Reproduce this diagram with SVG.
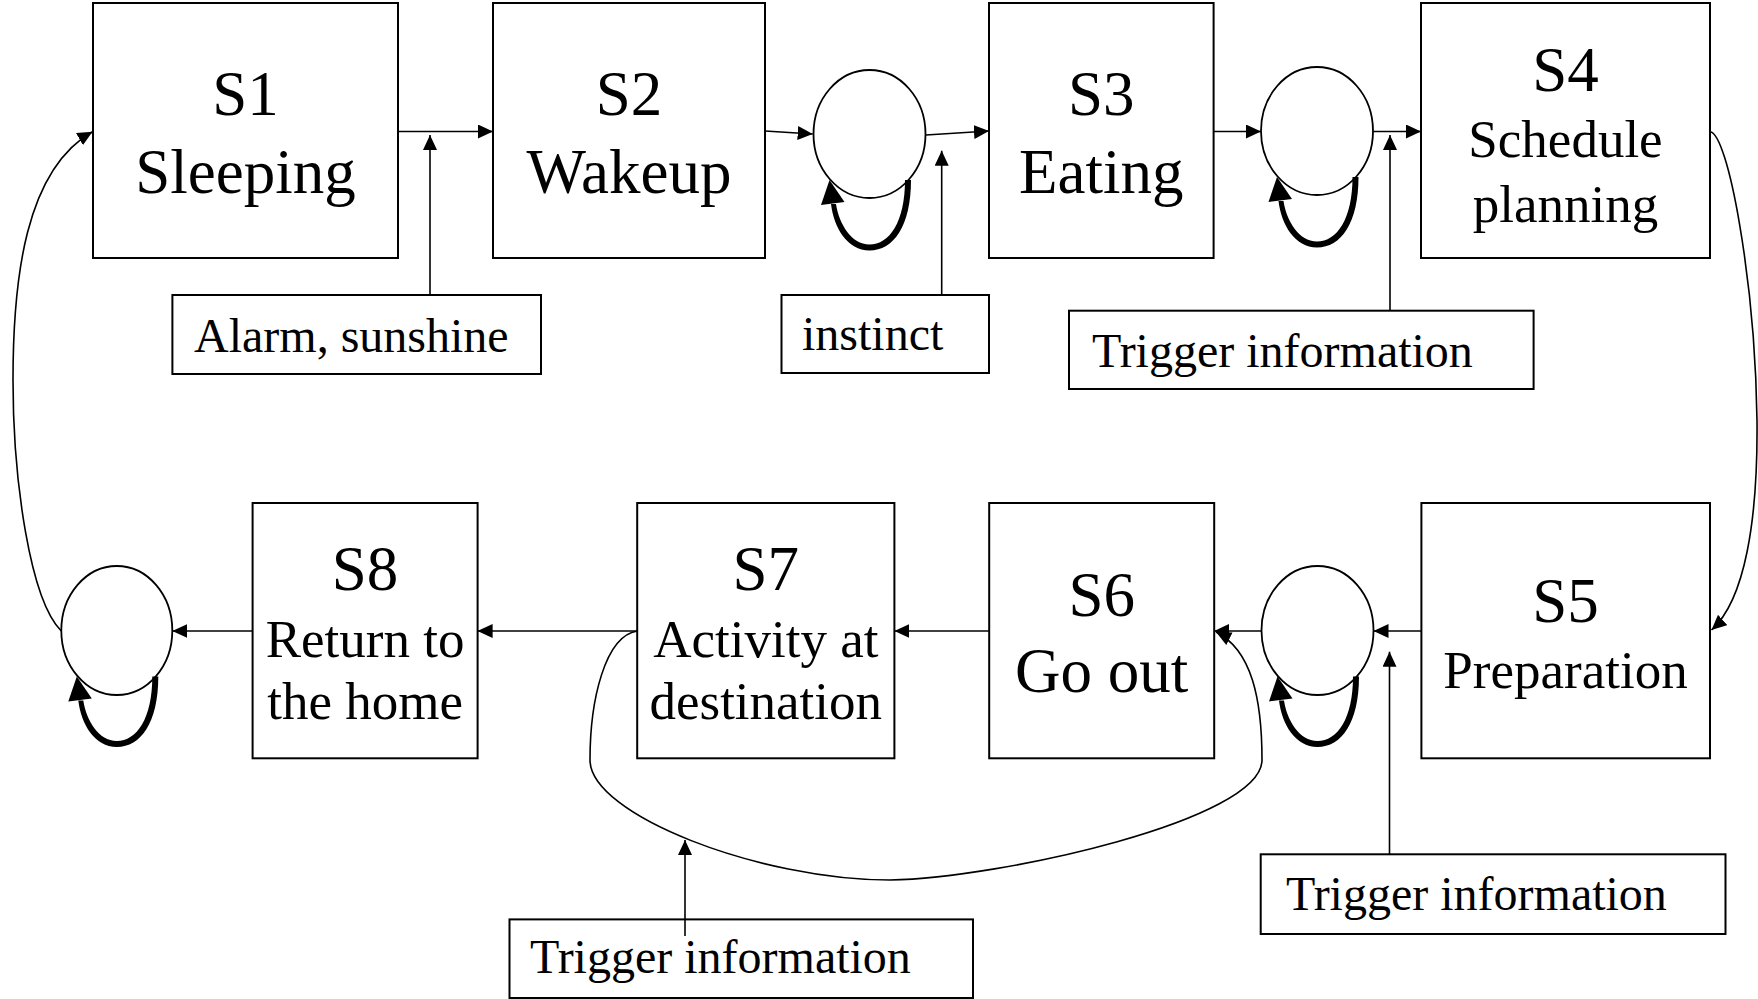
<svg xmlns="http://www.w3.org/2000/svg" xmlns:xlink="http://www.w3.org/1999/xlink" width="1758" height="999" viewBox="0 0 1758 999">
  <style>
    .box { fill: #fff; stroke: #000; stroke-width: 2; }
    .state { fill: #fff; stroke: #000; stroke-width: 1.8; }
    .line { fill: none; stroke: #000; stroke-width: 1.6; }
    .arrow { marker-end: url(#head); }
    text { font-family: "Liberation Serif", "Times New Roman", serif; fill: #000; }
    .big { font-size: 63px; text-anchor: middle; }
    .mid { font-size: 53px; text-anchor: middle; }
    .cue { font-size: 48px; }
  </style>
  <defs>
    <marker id="head" markerUnits="userSpaceOnUse" viewBox="0 0 15 14" refX="15" refY="7" markerWidth="15" markerHeight="14" orient="auto">
      <path d="M0,0 L15,7 L0,14 z" fill="#000"/>
    </marker>
    <!-- self-loop under a circle, drawn relative to the circle centre; the band tapers toward its head -->
    <g id="selfloop">
      <path d="M41.5,46 C41.5,92 24,116.5 0,116.5 C-22,116.5 -35.5,94 -38.5,70 L-33.5,70 C-30.5,90 -18,110.5 0,110.5 C20,110.5 35.5,88 35.5,46 Z" fill="#000"/>
      <path d="M-40,46 L-48.5,71 L-25,68 z" fill="#000"/>
    </g>
  </defs>

  <!-- top row -->
  <g id="s1">
    <rect class="box" x="93" y="3" width="305" height="255"/>
    <text class="big" x="245.5" y="115">S1</text>
    <text class="big" x="245.5" y="192.7">Sleeping</text>
  </g>
  <g id="s2">
    <rect class="box" x="493" y="3" width="272" height="255"/>
    <text class="big" x="629" y="115">S2</text>
    <text class="big" x="629" y="192.7">Wakeup</text>
  </g>
  <g id="c1">
    <ellipse class="state" cx="869.5" cy="134" rx="56" ry="64"/>
  </g>
  <g id="s3">
    <rect class="box" x="989" y="3" width="224.6" height="255"/>
    <text class="big" x="1101.3" y="115">S3</text>
    <text class="big" x="1101.3" y="192.7">Eating</text>
  </g>
  <g id="c2">
    <ellipse class="state" cx="1317" cy="131" rx="56" ry="64"/>
  </g>
  <g id="s4">
    <rect class="box" x="1421" y="3" width="289" height="255"/>
    <text class="big" x="1565.5" y="90.7">S4</text>
    <text class="mid" x="1565.5" y="156.7">Schedule</text>
    <text class="mid" x="1565.5" y="221.7">planning</text>
  </g>

  <!-- bottom row -->
  <g id="s5">
    <rect class="box" x="1421.4" y="503" width="288.6" height="255.3"/>
    <text class="big" x="1565.5" y="621.7">S5</text>
    <text class="mid" x="1565.5" y="688">Preparation</text>
  </g>
  <g id="c3">
    <ellipse class="state" cx="1317.5" cy="630.5" rx="56" ry="64.5"/>
  </g>
  <g id="s6">
    <rect class="box" x="989.2" y="503" width="225" height="255.3"/>
    <text class="big" x="1101.7" y="615.7">S6</text>
    <text class="big" x="1101.7" y="692.3">Go out</text>
  </g>
  <g id="s7">
    <rect class="box" x="637.2" y="503" width="257.2" height="255.3"/>
    <text class="big" x="765.8" y="590.3">S7</text>
    <text class="mid" x="765.8" y="657">Activity at</text>
    <text class="mid" x="765.8" y="719">destination</text>
  </g>
  <g id="s8">
    <rect class="box" x="252.6" y="503" width="225" height="255.3"/>
    <text class="big" x="365.1" y="590.3">S8</text>
    <text class="mid" x="365.1" y="657">Return to</text>
    <text class="mid" x="365.1" y="719">the home</text>
  </g>
  <g id="c4">
    <ellipse class="state" cx="116.8" cy="630.5" rx="55.5" ry="64.5"/>
  </g>

  <!-- input cues -->
  <g id="cue-alarm">
    <rect class="box" x="172.4" y="295" width="368.6" height="79"/>
    <text class="cue" x="194" y="352">Alarm, sunshine</text>
  </g>
  <g id="cue-instinct">
    <rect class="box" x="781.5" y="295" width="207.5" height="78"/>
    <text class="cue" x="802" y="350">instinct</text>
  </g>
  <g id="cue-trigger-1">
    <rect class="box" x="1069" y="310.7" width="464.6" height="78.3"/>
    <text class="cue" x="1092" y="367">Trigger information</text>
  </g>
  <g id="cue-trigger-2">
    <rect class="box" x="509.5" y="919.4" width="463.5" height="78.6"/>
    <text class="cue" x="530" y="973">Trigger information</text>
  </g>
  <g id="cue-trigger-3">
    <rect class="box" x="1260.7" y="854.3" width="464.8" height="79.7"/>
    <text class="cue" x="1286" y="910">Trigger information</text>
  </g>

  <!-- transitions -->
  <g id="connectors">
    <path class="line arrow" d="M398,131.5 L493,131.5"/>
    <path class="line arrow" d="M430,295 L430,135"/>
    <path class="line arrow" d="M765,131 L812.7,134"/>
    <path class="line arrow" d="M926,135 L989,131"/>
    <path class="line arrow" d="M941.7,295 L941.7,150.7"/>
    <path class="line arrow" d="M1213.6,131.5 L1261,131.5"/>
    <path class="line arrow" d="M1373,131.5 L1421,131.5"/>
    <path class="line arrow" d="M1390,310.7 L1390,135"/>
    <path class="line arrow" d="M1710,131.7 C1728,133 1755,280 1757,420 C1758,520 1745,600 1711.5,630"/>
    <path class="line arrow" d="M1421.4,631 L1373.5,631"/>
    <path class="line arrow" d="M1389.5,854.3 L1389.5,651.7"/>
    <path class="line arrow" d="M1261.5,631 L1214.2,631"/>
    <path class="line arrow" d="M989.2,631 L894.4,631"/>
    <path class="line arrow" d="M637.2,631 L477.6,631"/>
    <path class="line arrow" d="M252.6,631 L172.3,631"/>
    <path class="line arrow" d="M61.3,631 C30,600 13,480 13,380 C13,280 25,170 92.5,131.7"/>
    <path class="line arrow" d="M637.2,631 C605,636 590,700 590,760 C590,815 760,880 890,880 C1000,878 1262,820 1262,760 C1262,700 1252,650 1216,632"/>
    <path class="line arrow" d="M685,936 L685,840"/>
    <use xlink:href="#selfloop" transform="translate(869.5,134)"/>
    <use xlink:href="#selfloop" transform="translate(1317,131)"/>
    <use xlink:href="#selfloop" transform="translate(1317.5,630.5)"/>
    <use xlink:href="#selfloop" transform="translate(116.8,630.5)"/>
  </g>
</svg>
